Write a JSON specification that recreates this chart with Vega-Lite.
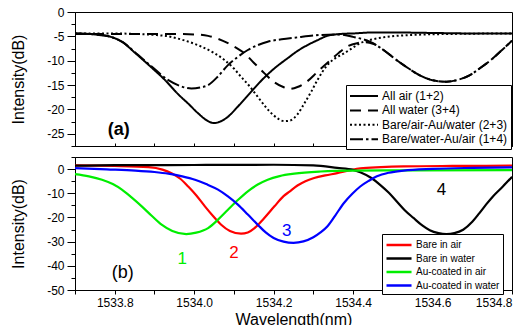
{
  "$schema": "https://vega.github.io/schema/vega-lite/v6.json",
  "padding": {"left": 10, "top": 5, "right": 0, "bottom": 2},
  "background": "white",
  "config": {
    "view": {"stroke": "black", "strokeWidth": 1},
    "concat": {"spacing": -3},
    "font": "Liberation Sans",
    "axis": {"grid": false, "domainColor": "black", "tickColor": "black", "labelColor": "black", "titleColor": "black", "labelFont": "Liberation Sans", "titleFont": "Liberation Sans", "labelFontSize": 12, "titleFontSize": 16, "titleFontWeight": "normal", "labelOverlap": false, "tickCount": 30},
    "legend": {"labelFont": "Liberation Sans", "labelColor": "black"}
  },
  "datasets": {
    "top": [
      {"series": "All air (1+2)", "wl": 1533.70, "db": -4.4},
      {"series": "All air (1+2)", "wl": 1533.75, "db": -4.6},
      {"series": "All air (1+2)", "wl": 1533.79, "db": -5.1},
      {"series": "All air (1+2)", "wl": 1533.82, "db": -6.2},
      {"series": "All air (1+2)", "wl": 1533.85, "db": -8.3},
      {"series": "All air (1+2)", "wl": 1533.89, "db": -11.2},
      {"series": "All air (1+2)", "wl": 1533.927, "db": -14.0},
      {"series": "All air (1+2)", "wl": 1533.96, "db": -16.9},
      {"series": "All air (1+2)", "wl": 1533.985, "db": -18.8},
      {"series": "All air (1+2)", "wl": 1534.01, "db": -20.8},
      {"series": "All air (1+2)", "wl": 1534.035, "db": -22.4},
      {"series": "All air (1+2)", "wl": 1534.05, "db": -22.8},
      {"series": "All air (1+2)", "wl": 1534.065, "db": -22.5},
      {"series": "All air (1+2)", "wl": 1534.085, "db": -21.5},
      {"series": "All air (1+2)", "wl": 1534.11, "db": -19.4},
      {"series": "All air (1+2)", "wl": 1534.143, "db": -16.4},
      {"series": "All air (1+2)", "wl": 1534.17, "db": -14.0},
      {"series": "All air (1+2)", "wl": 1534.20, "db": -11.7},
      {"series": "All air (1+2)", "wl": 1534.235, "db": -9.5},
      {"series": "All air (1+2)", "wl": 1534.26, "db": -8.0},
      {"series": "All air (1+2)", "wl": 1534.285, "db": -6.8},
      {"series": "All air (1+2)", "wl": 1534.31, "db": -5.8},
      {"series": "All air (1+2)", "wl": 1534.335, "db": -4.9},
      {"series": "All air (1+2)", "wl": 1534.37, "db": -4.5},
      {"series": "All air (1+2)", "wl": 1534.40, "db": -4.4},
      {"series": "All air (1+2)", "wl": 1534.45, "db": -4.2},
      {"series": "All air (1+2)", "wl": 1534.50, "db": -4.2},
      {"series": "All air (1+2)", "wl": 1534.60, "db": -4.3},
      {"series": "All air (1+2)", "wl": 1534.70, "db": -4.4},
      {"series": "All air (1+2)", "wl": 1534.80, "db": -4.4},

      {"series": "All water (3+4)", "wl": 1533.70, "db": -4.5},
      {"series": "All water (3+4)", "wl": 1533.80, "db": -4.5},
      {"series": "All water (3+4)", "wl": 1533.90, "db": -4.5},
      {"series": "All water (3+4)", "wl": 1533.95, "db": -4.5},
      {"series": "All water (3+4)", "wl": 1534.00, "db": -4.6},
      {"series": "All water (3+4)", "wl": 1534.035, "db": -4.9},
      {"series": "All water (3+4)", "wl": 1534.06, "db": -5.5},
      {"series": "All water (3+4)", "wl": 1534.085, "db": -6.4},
      {"series": "All water (3+4)", "wl": 1534.105, "db": -7.3},
      {"series": "All water (3+4)", "wl": 1534.127, "db": -8.5},
      {"series": "All water (3+4)", "wl": 1534.15, "db": -10.4},
      {"series": "All water (3+4)", "wl": 1534.177, "db": -12.6},
      {"series": "All water (3+4)", "wl": 1534.20, "db": -14.3},
      {"series": "All water (3+4)", "wl": 1534.227, "db": -15.5},
      {"series": "All water (3+4)", "wl": 1534.24, "db": -15.8},
      {"series": "All water (3+4)", "wl": 1534.26, "db": -15.4},
      {"series": "All water (3+4)", "wl": 1534.285, "db": -14.2},
      {"series": "All water (3+4)", "wl": 1534.31, "db": -12.3},
      {"series": "All water (3+4)", "wl": 1534.343, "db": -9.9},
      {"series": "All water (3+4)", "wl": 1534.365, "db": -8.3},
      {"series": "All water (3+4)", "wl": 1534.385, "db": -7.1},
      {"series": "All water (3+4)", "wl": 1534.41, "db": -6.4},
      {"series": "All water (3+4)", "wl": 1534.427, "db": -6.2},
      {"series": "All water (3+4)", "wl": 1534.45, "db": -6.5},
      {"series": "All water (3+4)", "wl": 1534.48, "db": -8.0},
      {"series": "All water (3+4)", "wl": 1534.51, "db": -9.9},
      {"series": "All water (3+4)", "wl": 1534.54, "db": -11.6},
      {"series": "All water (3+4)", "wl": 1534.568, "db": -13.0},
      {"series": "All water (3+4)", "wl": 1534.60, "db": -14.0},
      {"series": "All water (3+4)", "wl": 1534.635, "db": -14.3},
      {"series": "All water (3+4)", "wl": 1534.665, "db": -13.9},
      {"series": "All water (3+4)", "wl": 1534.693, "db": -13.0},
      {"series": "All water (3+4)", "wl": 1534.72, "db": -11.5},
      {"series": "All water (3+4)", "wl": 1534.752, "db": -9.5},
      {"series": "All water (3+4)", "wl": 1534.775, "db": -7.8},
      {"series": "All water (3+4)", "wl": 1534.80, "db": -5.9},

      {"series": "Bare/air-Au/water (2+3)", "wl": 1533.70, "db": -4.4},
      {"series": "Bare/air-Au/water (2+3)", "wl": 1533.80, "db": -4.4},
      {"series": "Bare/air-Au/water (2+3)", "wl": 1533.85, "db": -4.5},
      {"series": "Bare/air-Au/water (2+3)", "wl": 1533.90, "db": -4.7},
      {"series": "Bare/air-Au/water (2+3)", "wl": 1533.935, "db": -5.0},
      {"series": "Bare/air-Au/water (2+3)", "wl": 1533.97, "db": -5.7},
      {"series": "Bare/air-Au/water (2+3)", "wl": 1534.00, "db": -6.5},
      {"series": "Bare/air-Au/water (2+3)", "wl": 1534.018, "db": -7.1},
      {"series": "Bare/air-Au/water (2+3)", "wl": 1534.05, "db": -8.4},
      {"series": "Bare/air-Au/water (2+3)", "wl": 1534.077, "db": -9.9},
      {"series": "Bare/air-Au/water (2+3)", "wl": 1534.10, "db": -11.6},
      {"series": "Bare/air-Au/water (2+3)", "wl": 1534.118, "db": -13.3},
      {"series": "Bare/air-Au/water (2+3)", "wl": 1534.14, "db": -15.3},
      {"series": "Bare/air-Au/water (2+3)", "wl": 1534.16, "db": -17.4},
      {"series": "Bare/air-Au/water (2+3)", "wl": 1534.18, "db": -19.5},
      {"series": "Bare/air-Au/water (2+3)", "wl": 1534.20, "db": -21.2},
      {"series": "Bare/air-Au/water (2+3)", "wl": 1534.227, "db": -22.4},
      {"series": "Bare/air-Au/water (2+3)", "wl": 1534.24, "db": -22.3},
      {"series": "Bare/air-Au/water (2+3)", "wl": 1534.26, "db": -21.0},
      {"series": "Bare/air-Au/water (2+3)", "wl": 1534.277, "db": -18.8},
      {"series": "Bare/air-Au/water (2+3)", "wl": 1534.295, "db": -16.3},
      {"series": "Bare/air-Au/water (2+3)", "wl": 1534.31, "db": -14.0},
      {"series": "Bare/air-Au/water (2+3)", "wl": 1534.335, "db": -10.9},
      {"series": "Bare/air-Au/water (2+3)", "wl": 1534.355, "db": -9.5},
      {"series": "Bare/air-Au/water (2+3)", "wl": 1534.377, "db": -8.5},
      {"series": "Bare/air-Au/water (2+3)", "wl": 1534.40, "db": -7.3},
      {"series": "Bare/air-Au/water (2+3)", "wl": 1534.418, "db": -6.4},
      {"series": "Bare/air-Au/water (2+3)", "wl": 1534.45, "db": -5.6},
      {"series": "Bare/air-Au/water (2+3)", "wl": 1534.485, "db": -5.1},
      {"series": "Bare/air-Au/water (2+3)", "wl": 1534.55, "db": -4.7},
      {"series": "Bare/air-Au/water (2+3)", "wl": 1534.65, "db": -4.5},
      {"series": "Bare/air-Au/water (2+3)", "wl": 1534.80, "db": -4.4},

      {"series": "Bare/water-Au/air (1+4)", "wl": 1533.70, "db": -4.4},
      {"series": "Bare/water-Au/air (1+4)", "wl": 1533.75, "db": -4.6},
      {"series": "Bare/water-Au/air (1+4)", "wl": 1533.79, "db": -5.1},
      {"series": "Bare/water-Au/air (1+4)", "wl": 1533.82, "db": -6.2},
      {"series": "Bare/water-Au/air (1+4)", "wl": 1533.85, "db": -8.2},
      {"series": "Bare/water-Au/air (1+4)", "wl": 1533.893, "db": -11.2},
      {"series": "Bare/water-Au/air (1+4)", "wl": 1533.935, "db": -14.0},
      {"series": "Bare/water-Au/air (1+4)", "wl": 1533.965, "db": -15.2},
      {"series": "Bare/water-Au/air (1+4)", "wl": 1533.993, "db": -15.7},
      {"series": "Bare/water-Au/air (1+4)", "wl": 1534.015, "db": -15.5},
      {"series": "Bare/water-Au/air (1+4)", "wl": 1534.035, "db": -15.0},
      {"series": "Bare/water-Au/air (1+4)", "wl": 1534.06, "db": -13.2},
      {"series": "Bare/water-Au/air (1+4)", "wl": 1534.085, "db": -10.9},
      {"series": "Bare/water-Au/air (1+4)", "wl": 1534.11, "db": -9.2},
      {"series": "Bare/water-Au/air (1+4)", "wl": 1534.135, "db": -7.8},
      {"series": "Bare/water-Au/air (1+4)", "wl": 1534.16, "db": -6.8},
      {"series": "Bare/water-Au/air (1+4)", "wl": 1534.185, "db": -6.1},
      {"series": "Bare/water-Au/air (1+4)", "wl": 1534.22, "db": -5.6},
      {"series": "Bare/water-Au/air (1+4)", "wl": 1534.26, "db": -5.2},
      {"series": "Bare/water-Au/air (1+4)", "wl": 1534.32, "db": -4.7},
      {"series": "Bare/water-Au/air (1+4)", "wl": 1534.36, "db": -4.6},
      {"series": "Bare/water-Au/air (1+4)", "wl": 1534.40, "db": -5.1},
      {"series": "Bare/water-Au/air (1+4)", "wl": 1534.45, "db": -6.4},
      {"series": "Bare/water-Au/air (1+4)", "wl": 1534.48, "db": -8.0},
      {"series": "Bare/water-Au/air (1+4)", "wl": 1534.51, "db": -9.9},
      {"series": "Bare/water-Au/air (1+4)", "wl": 1534.54, "db": -11.6},
      {"series": "Bare/water-Au/air (1+4)", "wl": 1534.568, "db": -13.0},
      {"series": "Bare/water-Au/air (1+4)", "wl": 1534.60, "db": -14.0},
      {"series": "Bare/water-Au/air (1+4)", "wl": 1534.635, "db": -14.3},
      {"series": "Bare/water-Au/air (1+4)", "wl": 1534.665, "db": -13.9},
      {"series": "Bare/water-Au/air (1+4)", "wl": 1534.693, "db": -13.0},
      {"series": "Bare/water-Au/air (1+4)", "wl": 1534.72, "db": -11.5},
      {"series": "Bare/water-Au/air (1+4)", "wl": 1534.752, "db": -9.5},
      {"series": "Bare/water-Au/air (1+4)", "wl": 1534.775, "db": -7.8},
      {"series": "Bare/water-Au/air (1+4)", "wl": 1534.80, "db": -5.9}
    ],
    "bottom": [
      {"series": "Bare in air", "wl": 1533.70, "db": 1.5},
      {"series": "Bare in air", "wl": 1533.80, "db": 1.3},
      {"series": "Bare in air", "wl": 1533.885, "db": 0.8},
      {"series": "Bare in air", "wl": 1533.92, "db": -0.2},
      {"series": "Bare in air", "wl": 1533.943, "db": -1.7},
      {"series": "Bare in air", "wl": 1533.965, "db": -4.0},
      {"series": "Bare in air", "wl": 1533.985, "db": -7.2},
      {"series": "Bare in air", "wl": 1534.005, "db": -10.8},
      {"series": "Bare in air", "wl": 1534.027, "db": -15.4},
      {"series": "Bare in air", "wl": 1534.048, "db": -19.5},
      {"series": "Bare in air", "wl": 1534.068, "db": -23.0},
      {"series": "Bare in air", "wl": 1534.09, "db": -25.6},
      {"series": "Bare in air", "wl": 1534.118, "db": -26.7},
      {"series": "Bare in air", "wl": 1534.135, "db": -26.2},
      {"series": "Bare in air", "wl": 1534.152, "db": -24.4},
      {"series": "Bare in air", "wl": 1534.175, "db": -20.5},
      {"series": "Bare in air", "wl": 1534.202, "db": -15.4},
      {"series": "Bare in air", "wl": 1534.225, "db": -11.2},
      {"series": "Bare in air", "wl": 1534.24, "db": -9.3},
      {"series": "Bare in air", "wl": 1534.26, "db": -6.8},
      {"series": "Bare in air", "wl": 1534.28, "db": -5.0},
      {"series": "Bare in air", "wl": 1534.302, "db": -3.7},
      {"series": "Bare in air", "wl": 1534.33, "db": -2.6},
      {"series": "Bare in air", "wl": 1534.36, "db": -1.7},
      {"series": "Bare in air", "wl": 1534.39, "db": -0.6},
      {"series": "Bare in air", "wl": 1534.418, "db": 0.3},
      {"series": "Bare in air", "wl": 1534.47, "db": 0.8},
      {"series": "Bare in air", "wl": 1534.527, "db": 1.1},
      {"series": "Bare in air", "wl": 1534.65, "db": 1.3},
      {"series": "Bare in air", "wl": 1534.80, "db": 1.4},

      {"series": "Bare in water", "wl": 1533.70, "db": 1.4},
      {"series": "Bare in water", "wl": 1533.80, "db": 1.6},
      {"series": "Bare in water", "wl": 1534.00, "db": 1.7},
      {"series": "Bare in water", "wl": 1534.20, "db": 1.8},
      {"series": "Bare in water", "wl": 1534.30, "db": 1.5},
      {"series": "Bare in water", "wl": 1534.36, "db": 0.5},
      {"series": "Bare in water", "wl": 1534.40, "db": -0.3},
      {"series": "Bare in water", "wl": 1534.418, "db": -1.3},
      {"series": "Bare in water", "wl": 1534.445, "db": -3.6},
      {"series": "Bare in water", "wl": 1534.468, "db": -6.5},
      {"series": "Bare in water", "wl": 1534.49, "db": -9.8},
      {"series": "Bare in water", "wl": 1534.51, "db": -13.4},
      {"series": "Bare in water", "wl": 1534.53, "db": -17.0},
      {"series": "Bare in water", "wl": 1534.552, "db": -20.2},
      {"series": "Bare in water", "wl": 1534.575, "db": -23.4},
      {"series": "Bare in water", "wl": 1534.593, "db": -25.3},
      {"series": "Bare in water", "wl": 1534.615, "db": -26.5},
      {"series": "Bare in water", "wl": 1534.635, "db": -26.9},
      {"series": "Bare in water", "wl": 1534.655, "db": -26.5},
      {"series": "Bare in water", "wl": 1534.677, "db": -25.1},
      {"series": "Bare in water", "wl": 1534.70, "db": -21.8},
      {"series": "Bare in water", "wl": 1534.718, "db": -18.2},
      {"series": "Bare in water", "wl": 1534.735, "db": -14.6},
      {"series": "Bare in water", "wl": 1534.752, "db": -11.3},
      {"series": "Bare in water", "wl": 1534.777, "db": -7.2},
      {"series": "Bare in water", "wl": 1534.80, "db": -3.2},

      {"series": "Au-coated in air", "wl": 1533.70, "db": -2.1},
      {"series": "Au-coated in air", "wl": 1533.735, "db": -3.0},
      {"series": "Au-coated in air", "wl": 1533.768, "db": -4.4},
      {"series": "Au-coated in air", "wl": 1533.795, "db": -6.2},
      {"series": "Au-coated in air", "wl": 1533.818, "db": -8.5},
      {"series": "Au-coated in air", "wl": 1533.843, "db": -11.8},
      {"series": "Au-coated in air", "wl": 1533.868, "db": -15.4},
      {"series": "Au-coated in air", "wl": 1533.893, "db": -19.3},
      {"series": "Au-coated in air", "wl": 1533.918, "db": -23.0},
      {"series": "Au-coated in air", "wl": 1533.945, "db": -25.6},
      {"series": "Au-coated in air", "wl": 1533.98, "db": -26.9},
      {"series": "Au-coated in air", "wl": 1534.005, "db": -26.3},
      {"series": "Au-coated in air", "wl": 1534.035, "db": -24.4},
      {"series": "Au-coated in air", "wl": 1534.06, "db": -20.9},
      {"series": "Au-coated in air", "wl": 1534.085, "db": -16.8},
      {"series": "Au-coated in air", "wl": 1534.11, "db": -12.8},
      {"series": "Au-coated in air", "wl": 1534.135, "db": -9.2},
      {"series": "Au-coated in air", "wl": 1534.16, "db": -6.4},
      {"series": "Au-coated in air", "wl": 1534.185, "db": -4.4},
      {"series": "Au-coated in air", "wl": 1534.215, "db": -2.9},
      {"series": "Au-coated in air", "wl": 1534.252, "db": -1.9},
      {"series": "Au-coated in air", "wl": 1534.318, "db": -1.0},
      {"series": "Au-coated in air", "wl": 1534.40, "db": -0.6},
      {"series": "Au-coated in air", "wl": 1534.55, "db": -0.5},
      {"series": "Au-coated in air", "wl": 1534.80, "db": -0.4},

      {"series": "Au-coated in water", "wl": 1533.70, "db": 0.4},
      {"series": "Au-coated in water", "wl": 1533.78, "db": -0.1},
      {"series": "Au-coated in water", "wl": 1533.852, "db": -0.6},
      {"series": "Au-coated in water", "wl": 1533.90, "db": -1.2},
      {"series": "Au-coated in water", "wl": 1533.935, "db": -1.9},
      {"series": "Au-coated in water", "wl": 1533.97, "db": -3.0},
      {"series": "Au-coated in water", "wl": 1534.002, "db": -4.4},
      {"series": "Au-coated in water", "wl": 1534.03, "db": -6.2},
      {"series": "Au-coated in water", "wl": 1534.06, "db": -8.5},
      {"series": "Au-coated in water", "wl": 1534.085, "db": -11.3},
      {"series": "Au-coated in water", "wl": 1534.11, "db": -14.7},
      {"series": "Au-coated in water", "wl": 1534.135, "db": -18.8},
      {"series": "Au-coated in water", "wl": 1534.16, "db": -23.0},
      {"series": "Au-coated in water", "wl": 1534.18, "db": -26.2},
      {"series": "Au-coated in water", "wl": 1534.20, "db": -28.5},
      {"series": "Au-coated in water", "wl": 1534.225, "db": -30.0},
      {"series": "Au-coated in water", "wl": 1534.25, "db": -30.5},
      {"series": "Au-coated in water", "wl": 1534.275, "db": -29.9},
      {"series": "Au-coated in water", "wl": 1534.30, "db": -28.2},
      {"series": "Au-coated in water", "wl": 1534.318, "db": -26.2},
      {"series": "Au-coated in water", "wl": 1534.335, "db": -23.7},
      {"series": "Au-coated in water", "wl": 1534.355, "db": -19.2},
      {"series": "Au-coated in water", "wl": 1534.377, "db": -14.0},
      {"series": "Au-coated in water", "wl": 1534.398, "db": -10.2},
      {"series": "Au-coated in water", "wl": 1534.418, "db": -7.2},
      {"series": "Au-coated in water", "wl": 1534.44, "db": -4.8},
      {"series": "Au-coated in water", "wl": 1534.46, "db": -3.0},
      {"series": "Au-coated in water", "wl": 1534.49, "db": -1.5},
      {"series": "Au-coated in water", "wl": 1534.527, "db": -0.6},
      {"series": "Au-coated in water", "wl": 1534.60, "db": 0.1},
      {"series": "Au-coated in water", "wl": 1534.70, "db": 0.5},
      {"series": "Au-coated in water", "wl": 1534.80, "db": 0.7}
    ],
    "notesTop": [
      {"label": "(a)", "wl": 1533.81, "db": -24.3}
    ],
    "notesBottom": [
      {"label": "(b)", "wl": 1533.82, "db": -43.0, "kind": "panel"},
      {"label": "1", "wl": 1533.97, "db": -37.0, "kind": "Au-coated in air"},
      {"label": "2", "wl": 1534.10, "db": -34.7, "kind": "Bare in air"},
      {"label": "3", "wl": 1534.233, "db": -25.7, "kind": "Au-coated in water"},
      {"label": "4", "wl": 1534.6225, "db": -8.5, "kind": "Bare in water"}
    ]
  },
  "spacing": -3,
  "resolve": {"scale": {"color": "independent", "strokeDash": "independent"}, "legend": {"color": "independent", "strokeDash": "independent"}},
  "vconcat": [
    {
      "width": 437,
      "height": 134,
      "layer": [
        {
          "data": {"name": "top"},
          "mark": {"type": "line", "stroke": "black", "strokeWidth": 2, "interpolate": "monotone"},
          "encoding": {
            "x": {"field": "wl", "type": "quantitative", "scale": {"domain": [1533.7, 1534.8], "nice": false, "zero": false},
              "axis": {"title": null, "labels": false, "tickCount": 30, "values": [1533.7, 1533.8, 1533.9, 1534.0, 1534.1, 1534.2, 1534.3, 1534.4, 1534.5, 1534.6, 1534.7, 1534.8], "tickSize": -3}},
            "y": {"field": "db", "type": "quantitative", "scale": {"domain": [-27.5, 0], "nice": false, "zero": false},
              "axis": {"title": "Intensity(dB)", "titlePadding": 20, "labelPadding": 3, "tickCount": 30, "labelOverlap": false,
                "values": [0, -2.5, -5, -7.5, -10, -12.5, -15, -17.5, -20, -22.5, -25, -27.5],
                "labelExpr": "datum.value % 5 == 0 ? '' + datum.value : ''",
                "tickSize": {"condition": {"test": "datum.value % 5 == 0", "value": 8}, "value": 4}}},
            "strokeDash": {"field": "series", "type": "nominal",
              "scale": {"domain": ["All air (1+2)", "All water (3+4)", "Bare/air-Au/water (2+3)", "Bare/water-Au/air (1+4)"],
                "range": [[1, 0], [11, 7], [2, 2.5], [13, 3, 2.5, 3]]},
              "legend": {"title": null, "orient": "none", "legendX": 271, "legendY": 73,
                "symbolType": "M-1,0H3", "symbolSize": 196, "symbolStrokeWidth": 2, "symbolStrokeColor": "black",
                "labelFontSize": 12, "labelOffset": 17, "labelLimit": 400,
                "strokeColor": "black", "fillColor": "white", "padding": 3, "rowPadding": 0.4}}
          }
        },
        {
          "data": {"name": "notesTop"},
          "mark": {"type": "text", "fontSize": 18, "fontWeight": "bold", "font": "Liberation Sans", "color": "black"},
          "encoding": {
            "x": {"field": "wl", "type": "quantitative"},
            "y": {"field": "db", "type": "quantitative"},
            "text": {"field": "label"}
          }
        }
      ]
    },
    {
      "width": 437,
      "height": 133,
      "layer": [
        {
          "data": {"name": "bottom"},
          "mark": {"type": "line", "strokeWidth": 2.2, "interpolate": "monotone"},
          "encoding": {
            "x": {"field": "wl", "type": "quantitative", "scale": {"domain": [1533.7, 1534.8], "nice": false, "zero": false},
              "axis": {"title": "Wavelength(nm)", "titlePadding": 3, "labelPadding": 3, "tickSize": 4, "tickCount": 30, "labelOverlap": false,
                "values": [1533.7, 1533.8, 1533.9, 1534.0, 1534.1, 1534.2, 1534.3, 1534.4, 1534.5, 1534.6, 1534.7, 1534.8],
                "labelExpr": "abs(datum.value * 5 - round(datum.value * 5)) < 0.01 ? format(datum.value, '.1f') : ''"}},
            "y": {"field": "db", "type": "quantitative", "scale": {"domain": [-50, 5], "nice": false, "zero": false},
              "axis": {"title": "Intensity(dB)", "titlePadding": 20, "labelPadding": 3, "tickCount": 30, "labelOverlap": false,
                "values": [5, 0, -5, -10, -15, -20, -25, -30, -35, -40, -45, -50],
                "labelExpr": "datum.value % 10 == 0 ? '' + datum.value : ''",
                "tickSize": {"condition": {"test": "datum.value % 10 == 0", "value": 8}, "value": 4}}},
            "color": {"field": "series", "type": "nominal",
              "scale": {"domain": ["Bare in air", "Bare in water", "Au-coated in air", "Au-coated in water"],
                "range": ["#ff0000", "#000000", "#00ee00", "#0000ff"]},
              "legend": {"title": null, "orient": "none", "legendX": 307, "legendY": 77,
                "symbolType": "M-1,0H2.85", "symbolSize": 169, "symbolStrokeWidth": 2.5,
                "labelFontSize": 10, "labelOffset": 15, "labelLimit": 400,
                "strokeColor": "black", "fillColor": "white", "padding": 3, "rowPadding": 0.5}}
          }
        },
        {
          "data": {"name": "notesBottom"},
          "mark": {"type": "text", "font": "Liberation Sans"},
          "encoding": {
            "x": {"field": "wl", "type": "quantitative"},
            "y": {"field": "db", "type": "quantitative"},
            "text": {"field": "label"},
            "size": {"condition": {"test": "datum.kind == 'panel'", "value": 18}, "value": 17},
            "color": {"condition": [
              {"test": "datum.kind == 'Au-coated in air'", "value": "#00ee00"},
              {"test": "datum.kind == 'Bare in air'", "value": "#ff0000"},
              {"test": "datum.kind == 'Au-coated in water'", "value": "#0000ff"}
            ], "value": "black"}
          }
        }
      ]
    }
  ]
}
